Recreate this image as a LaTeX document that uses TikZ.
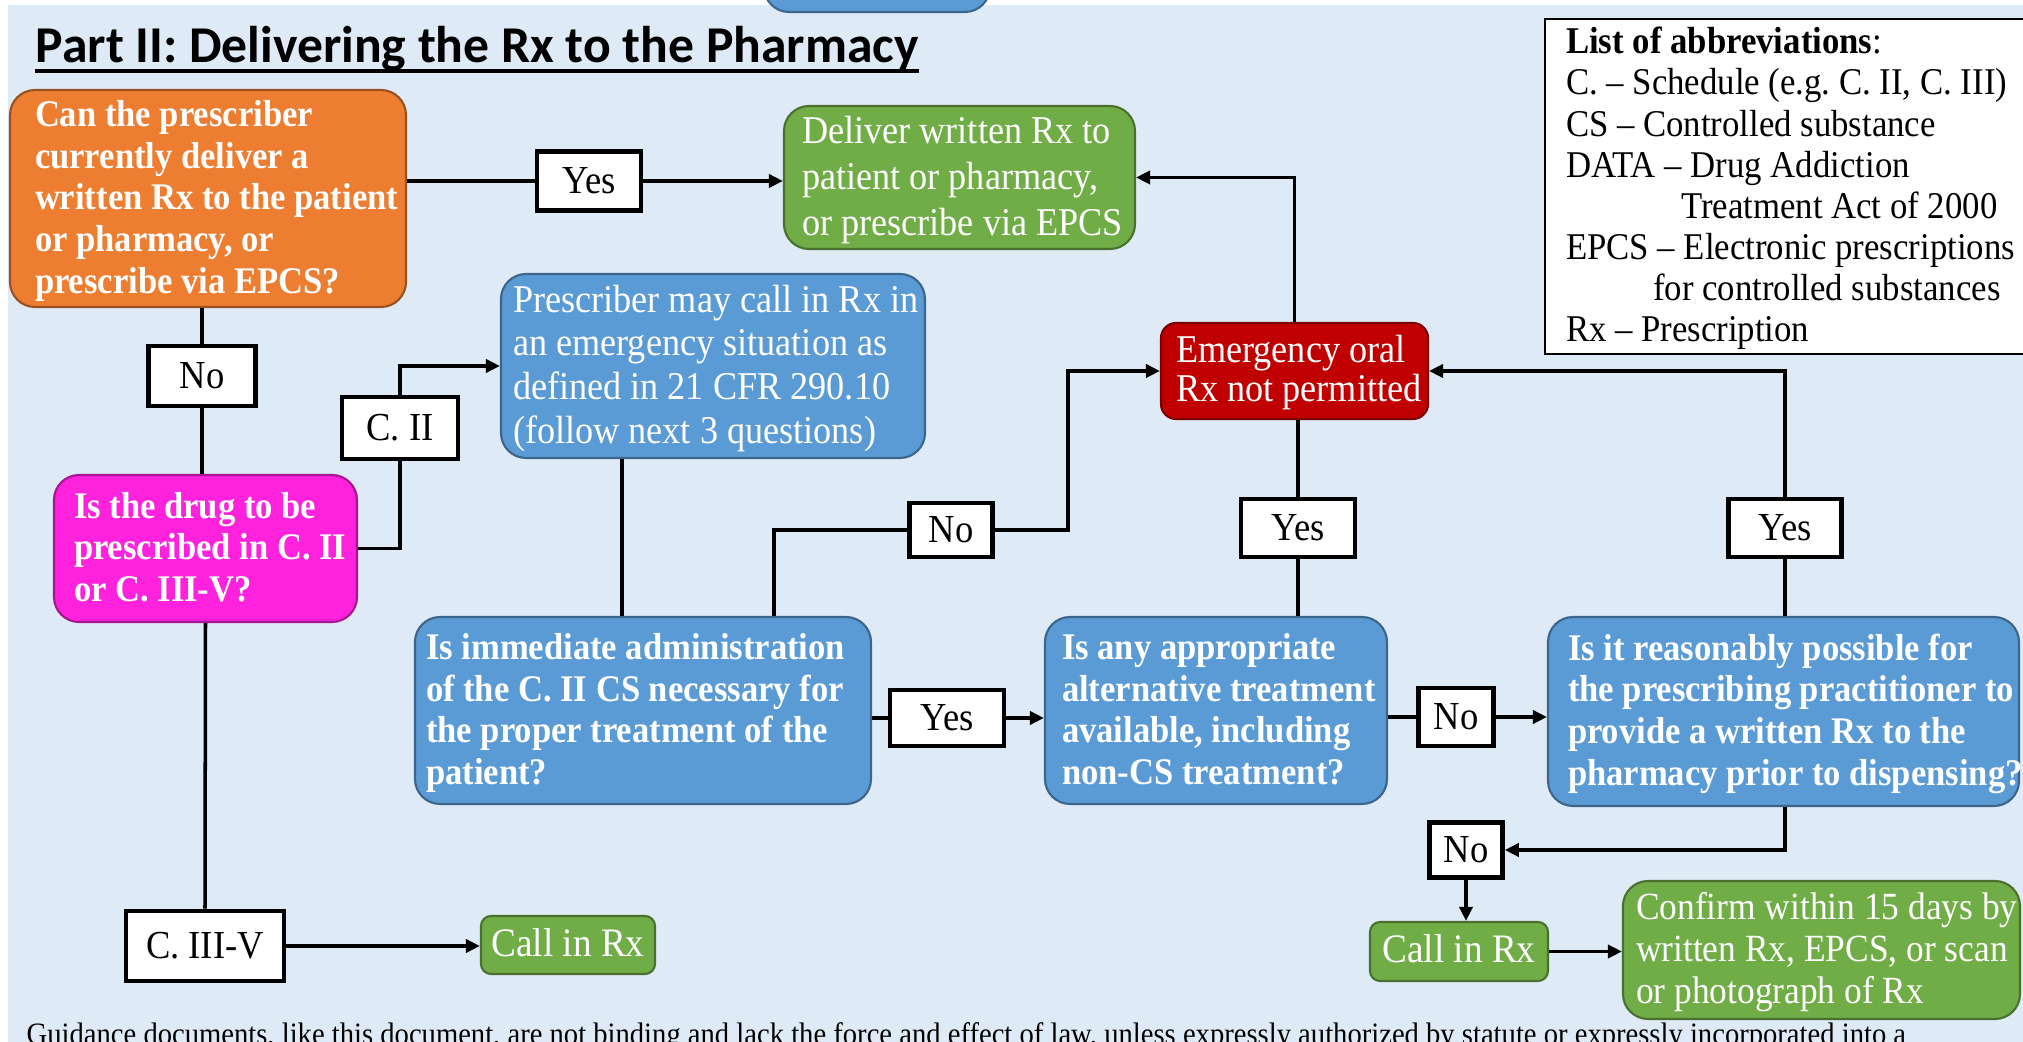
\documentclass[tikz,border=0pt]{standalone}
\usepackage{fontspec}
\setmainfont{Liberation Serif}[FakeStretch=0.92]
\newfontfamily\headfont{Carlito}
\usetikzlibrary{arrows.meta}
\hfuzz=40pt
\frenchspacing

\definecolor{pagebg}{HTML}{DEEAF6}
\definecolor{boxorange}{HTML}{ED7D31}
\definecolor{boxgreen}{HTML}{70AD47}
\definecolor{boxblue}{HTML}{5B9BD5}
\definecolor{boxred}{HTML}{C00000}
\definecolor{boxpink}{HTML}{FF22DD}

% lines of a box, never wrapped, with the font's own word spaces, set a little low
\newcommand{\boxlines}[1]{\spaceskip=0pt \xspaceskip=0pt \raisebox{-0.3mm}[\height][\depth]{\begin{tabular}{@{}l@{}}#1\end{tabular}}}

\begin{document}
\begin{tikzpicture}[x=0.1mm, y=-0.1mm,
    flowbox/.style={draw=#1!65!black, fill=#1, text=white, line width=0.6pt,
        rounded corners=2.5mm, align=left, inner ysep=0pt,
        font=\fontsize{11.2}{12}\selectfont},
    heavy/.style={font=\fontsize{10.7}{11.85}\selectfont\bfseries},
    tag/.style={draw=black, fill=white, line width=1.3pt, inner sep=0pt,
        font=\fontsize{11.3}{12}\selectfont},
    link/.style={line width=1pt},
    arr/.style={link, -{Triangle[length=1.4mm, width=1.3mm]}}]
    \useasboundingbox (0,0) rectangle (2023,1042);
    \fill[white] (0,0) rectangle (2023,1042);
    \fill[pagebg] (8,5) rectangle (2023,1042);

    % box cut off at the top edge
    \filldraw[fill=boxblue, draw=boxblue!65!black, line width=0.6pt, rounded corners=2.5mm] (764,-40) rectangle (990,12);

    % heading
    \node[anchor=base west, inner sep=0pt, font=\headfont\fontsize{14.7}{18}\selectfont\bfseries] (title) at (35,63) {Part II: Delivering the Rx to the Pharmacy};
    \draw[line width=1.2pt] ([yshift=-0.8mm]title.base west) -- ([yshift=-0.8mm]title.base east);

    % abbreviations
    \node[draw=black, fill=white, line width=0.6pt, anchor=north west, align=left, text width=46mm, inner xsep=2.1mm,
        inner ysep=0.1mm, minimum height=33.5mm, font=\fontsize{10.75}{11.7}\selectfont] (abbrev) at (1544,18) {\boxlines{%
        \textbf{List of abbreviations}:\\
        C. -- Schedule (e.g. C. II, C. III)\\
        CS -- Controlled substance\\
        DATA -- Drug Addiction\\
        \hspace*{11.5mm}Treatment Act of 2000\\
        EPCS -- Electronic prescriptions\\
        \hspace*{8.7mm}for controlled substances\\
        Rx -- Prescription}};

    % boxes
    \node[flowbox=boxorange, heavy, text width=34.6mm, inner xsep=2.5mm, minimum width=39.6mm, minimum height=21.7mm] (deliverq) at (208,198.5)
        {\boxlines{Can the prescriber\\ currently deliver a\\ written Rx to the patient\\ or pharmacy, or\\ prescribe via EPCS?}};
    \node[flowbox=boxgreen, font=\fontsize{11.2}{13}\selectfont, text width=31.5mm, inner xsep=1.8mm, minimum width=35.1mm, minimum height=14.3mm] (deliverrx) at (959.5,177.5)
        {\boxlines{Deliver written Rx to\\ patient or pharmacy,\\ or prescribe via EPCS}};
    \node[flowbox=boxblue, font=\fontsize{11.2}{12.4}\selectfont, text width=40mm, inner xsep=1.2mm, minimum width=42.4mm, minimum height=18.4mm] (emergcall) at (713,366)
        {\boxlines{Prescriber may call in Rx in\\ an emergency situation as\\ defined in 21 CFR 290.10\\ (follow next 3 questions)}};
    \node[flowbox=boxpink, heavy, text width=26.3mm, inner xsep=2mm, minimum width=30.3mm, minimum height=14.7mm] (schedq) at (205.5,548.5)
        {\boxlines{Is the drug to be\\ prescribed in C. II\\ or C. III-V?}};
    \node[flowbox=boxblue, heavy, text width=43.4mm, inner xsep=1.1mm, minimum width=45.6mm, minimum height=18.7mm] (immedq) at (643,710.5)
        {\boxlines{Is immediate administration\\ of the C. II CS necessary for\\ the proper treatment of the\\ patient?}};
    \node[flowbox=boxblue, heavy, text width=30.8mm, inner xsep=1.7mm, minimum width=34.2mm, minimum height=18.7mm] (altq) at (1216,710.5)
        {\boxlines{Is any appropriate\\ alternative treatment\\ available, including\\ non-CS treatment?}};
    \node[flowbox=boxblue, heavy, text width=43.1mm, inner xsep=2mm, minimum width=47.1mm, minimum height=18.9mm] (possibleq) at (1783.5,711.5)
        {\boxlines{Is it reasonably possible for\\ the prescribing practitioner to\\ provide a written Rx to the\\ pharmacy prior to dispensing?}};
    \node[flowbox=boxred, font=\fontsize{11.2}{11.1}\selectfont, text width=23.7mm, inner xsep=1.5mm, minimum width=26.7mm, minimum height=9.6mm, rounded corners=1.5mm] (notperm) at (1294.5,371)
        {\boxlines{Emergency oral\\ Rx not permitted}};
    \node[flowbox=boxgreen, font=\fontsize{11.5}{12}\selectfont, align=center, inner xsep=0pt, minimum width=17.4mm, minimum height=5.8mm, rounded corners=1mm] (callleft) at (568,945) {\boxlines{Call in Rx}};
    \node[flowbox=boxgreen, font=\fontsize{11.5}{12}\selectfont, align=center, inner xsep=0pt, minimum width=17.8mm, minimum height=5.9mm, rounded corners=1mm] (callright) at (1459,951.5) {\boxlines{Call in Rx}};
    \node[flowbox=boxgreen, font=\fontsize{10.95}{11.9}\selectfont, text width=37.1mm, inner xsep=1.3mm, minimum width=39.7mm, minimum height=13.8mm] (confirm) at (1821.5,950)
        {\boxlines{Confirm within 15 days by\\ written Rx, EPCS, or scan\\ or photograph of Rx}};

    % answer tags
    \node[tag, minimum width=10.4mm, minimum height=5.9mm] (yes1) at (589,181) {Yes};
    \node[tag, minimum width=10.7mm, minimum height=6mm] (no1) at (202,376) {No};
    \node[tag, minimum width=11.6mm, minimum height=6.2mm] (c2) at (400,428) {C. II};
    \node[tag, minimum width=8.3mm, minimum height=5.4mm] (no2) at (951,530) {No};
    \node[tag, minimum width=11.4mm, minimum height=5.6mm] (yes2) at (947,718) {Yes};
    \node[tag, minimum width=11.4mm, minimum height=5.8mm] (yes3) at (1298,528) {Yes};
    \node[tag, minimum width=7.5mm, minimum height=5.8mm] (no3) at (1456,717) {No};
    \node[tag, minimum width=11.3mm, minimum height=5.8mm] (yes4) at (1785,528) {Yes};
    \node[tag, minimum width=7.3mm, minimum height=5.5mm] (no4) at (1466,850) {No};
    \node[tag, minimum width=15.8mm, minimum height=7mm] (c35) at (205,946) {C. III-V};

    \coordinate (bendno) at (1068,530);

    % connectors
    \draw[link] (deliverq.east |- yes1) -- (yes1.west);
    \draw[arr] (yes1.east) -- (deliverrx.west |- yes1);
    \draw[arr] (notperm.north) |- (deliverrx.east);
    \draw[link] (no1 |- deliverq.south) -- (no1.north);
    \draw[link] (no1.south) -- (no1 |- schedq.north);
    \draw[link] (schedq.east) -| (c2.south);
    \draw[arr] (c2.north) |- (emergcall.west);
    \draw[link] ([xshift=-9.1mm]emergcall.south) -- ([xshift=-9.1mm]emergcall.south |- immedq.north);
    \draw[link] ([xshift=13.1mm]immedq.north) |- (no2.west);
    \draw[arr] (no2.east) -- (bendno) |- (notperm.west);
    \draw[link] (immedq.east |- yes2) -- (yes2.west);
    \draw[arr] (yes2.east) -- (altq.west |- yes2);
    \draw[link] (yes3 |- altq.north) -- (yes3.south);
    \draw[link] (yes3.north) -- (yes3 |- notperm.south);
    \draw[link] (altq.east |- no3) -- (no3.west);
    \draw[arr] (no3.east) -- (possibleq.west |- no3);
    \draw[link] (yes4 |- possibleq.north) -- (yes4.south);
    \draw[arr] (yes4.north) |- (notperm.east);
    \draw[arr] (yes4 |- possibleq.south) |- (no4.east);
    \draw[arr] (no4.south) -- (no4 |- callright.north);
    \draw[arr] (callright.east) -- (confirm.west |- callright);
    \draw[link] (schedq.south) -- (c35.north);
    \draw[arr] (c35.east) -- (callleft.west |- c35);

    % footer note
    \node[anchor=north west, inner sep=0pt, font=\fontsize{8.85}{10}\selectfont] (disclaimer) at (26,1022)
        {Guidance documents, like this document, are not binding and lack the force and effect of law, unless expressly authorized by statute or expressly incorporated into a};
\end{tikzpicture}
\end{document}
